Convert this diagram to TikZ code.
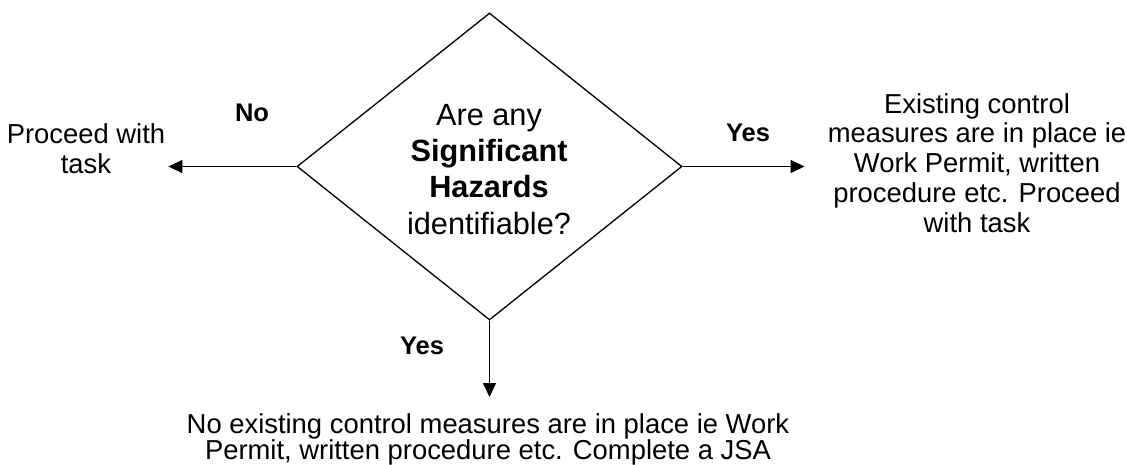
\documentclass[tikz,border=0pt]{standalone}
\usepackage{fontspec}
\setmainfont{Liberation Sans}
\usetikzlibrary{shapes.geometric,arrows.meta}
\tikzset{
  decision/.style={shape=diamond, draw, line width=1.3pt, inner sep=0pt,
    minimum width=385pt, minimum height=307pt},
  qtext/.style={font=\fontsize{30.7}{36.3}\selectfont, align=center, inner sep=0pt, anchor=north},
  bodytext/.style={font=\fontsize{27.4}{29.75}\selectfont, align=center, inner sep=0pt, anchor=north},
  bottomtext/.style={font=\fontsize{27.4}{26}\selectfont, align=center, inner sep=0pt, anchor=north},
  lbl/.style={font=\fontsize{25.5}{28}\selectfont\bfseries, inner sep=0pt},
  arr/.style={line width=1.3pt, -{Triangle[length=14pt,width=13pt]}}
}
\begin{document}
\begin{tikzpicture}[x=1pt,y=-1pt]
\useasboundingbox (0,0) rectangle (1127,465);
\node[decision] (q) at (489.5,166.5) {};
\node[qtext] (qt) at (489,104) {Are any\\\textbf{Significant}\\\textbf{Hazards}\\identifiable?};
\node[bodytext] (pw) at (86,123.5) {Proceed with\\task};
\node[bodytext] (ex) at (977,93) {Existing control\\measures are in place ie\\Work Permit, written\\procedure etc. Proceed\\with task};
\node[bottomtext] (nx) at (488,413) {No existing control measures are in place ie Work\\Permit, written procedure etc. Complete a JSA};
\node[lbl] (no) at (252,113) {No};
\node[lbl] (yr) at (748,133) {Yes};
\node[lbl] (yb) at (422,346) {Yes};
\coordinate (lt) at ([xshift=3pt]pw.east);
\coordinate (rt) at ([xshift=-23pt]ex.west);
\coordinate (bt) at ([yshift=16pt]nx.north);
\draw[arr] (q.west) -- (lt |- q.west);
\draw[arr] (q.east) -- (rt |- q.east);
\draw[arr] (q.south) -- (q.south |- bt);
\end{tikzpicture}
\end{document}
